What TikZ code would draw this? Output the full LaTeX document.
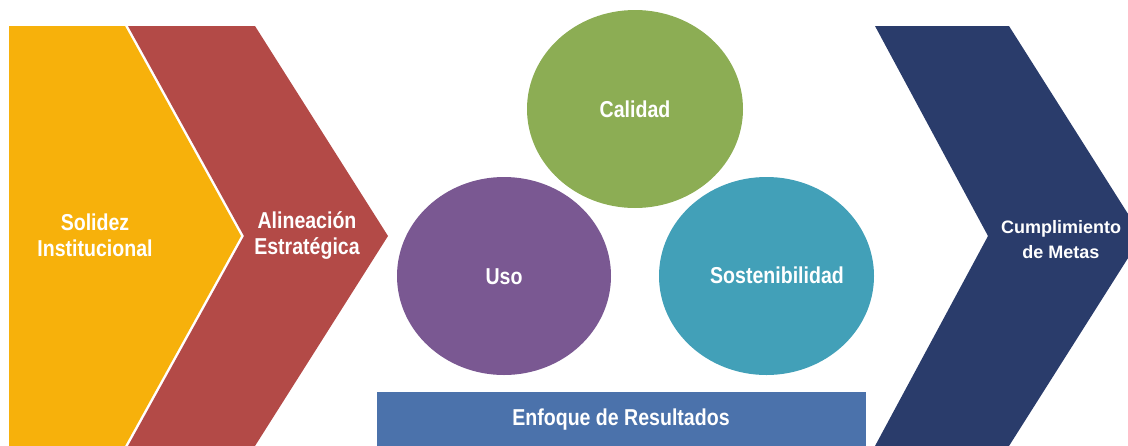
\documentclass[tikz,border=0pt]{standalone}
\usepackage{fontspec}
\setmainfont{Liberation Sans}
\newfontfamily\condfont[FakeStretch=0.85]{Liberation Sans}
\definecolor{cyellow}{HTML}{F7B10B}
\definecolor{cred}{HTML}{B34A47}
\definecolor{cgreen}{HTML}{8CAD54}
\definecolor{cpurple}{HTML}{7A5892}
\definecolor{cteal}{HTML}{42A0B8}
\definecolor{cnavy}{HTML}{2A3C6B}
\definecolor{cblue}{HTML}{4B72AB}
\tikzset{
  lbl/.style={text=white, align=center, font=\condfont\bfseries\fontsize{23}{26}\selectfont, inner sep=0pt},
  lblarial/.style={text=white, align=center, font=\bfseries\fontsize{18}{25}\selectfont, inner sep=0pt},
}
\begin{document}
\begin{tikzpicture}[x=1pt,y=-1pt]
\useasboundingbox (0,0) rectangle (1128,445);
\clip (0,0) rectangle (1128,445);
% chevrons
\fill[cyellow] (9,26) -- (125,26) -- (241,236) -- (125,446) -- (9,446) -- cycle;
\fill[cred] (128,26) -- (255,26) -- (388,236) -- (255,446) -- (128,446) -- (244,236) -- cycle;
\fill[cnavy] (875,26) -- (1009,26) -- (1142,236) -- (1009,446) -- (875,446) -- (988,236) -- cycle;
% ellipses
\fill[cgreen] (635,109) ellipse [x radius=108, y radius=99];
\fill[cpurple] (504,276) ellipse [x radius=107, y radius=99];
\fill[cteal] (766.5,276) ellipse [x radius=107.5, y radius=99];
% bottom bar
\fill[cblue] (377,392) rectangle (866,446);
% labels
\node[lbl] (solidez) at (95,235) {Solidez\\Institucional};
\node[lbl] (alineacion) at (307,235) {Alineación\\Estratégica};
\node[lbl] (calidad) at (635,109) {Calidad};
\node[lbl] (uso) at (504,277) {Uso};
\node[lbl] (sosten) at (777,275) {Sostenibilidad};
\node[lbl] (enfoque) at (621,420) {Enfoque de Resultados};
\node[lblarial] (cumpl) at (1061,240) {Cumplimiento\\de Metas};
\end{tikzpicture}
\end{document}
